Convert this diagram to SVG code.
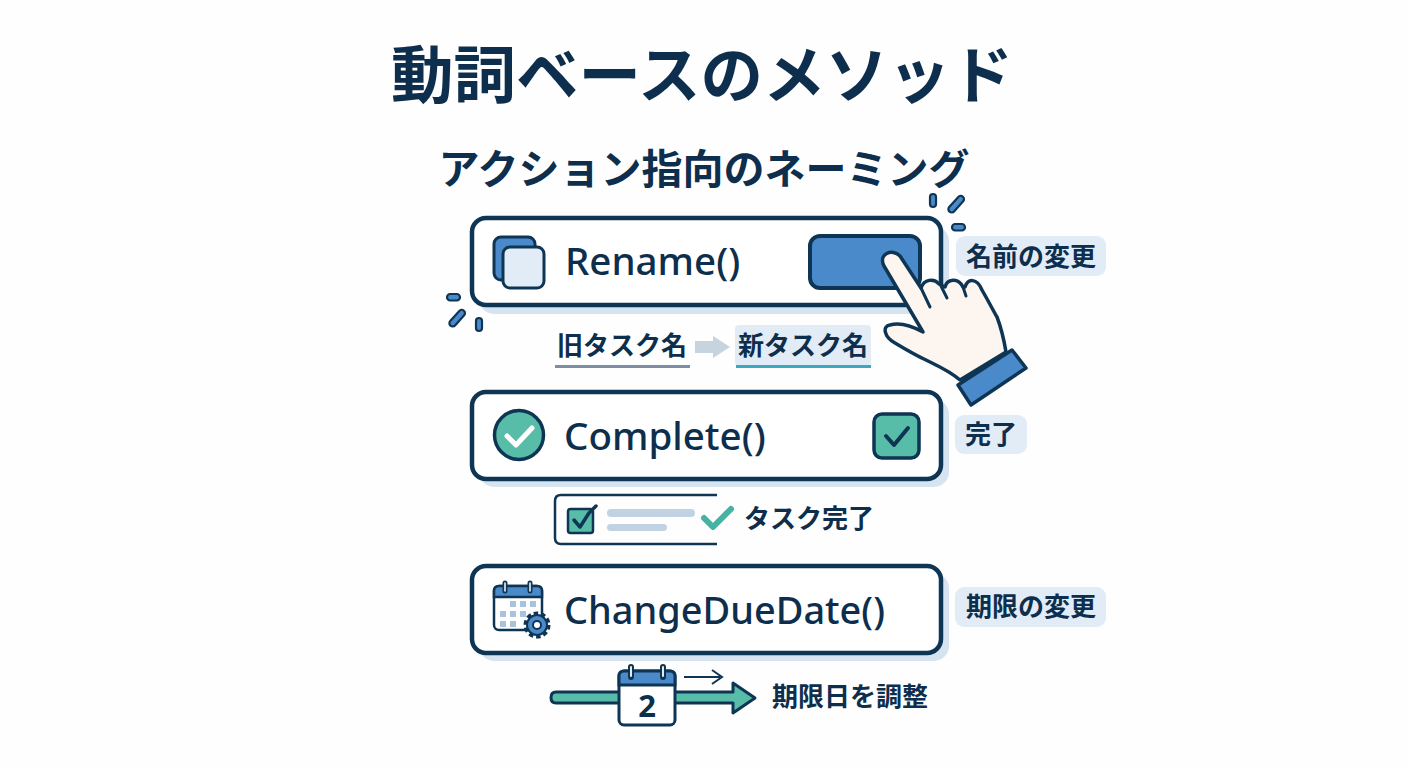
<svg xmlns="http://www.w3.org/2000/svg" width="1408" height="768" viewBox="0 0 1408 768">
<style>
text{font-family:"Noto Sans CJK JP","Noto Sans",sans-serif;fill:#0d2e4c}
.title{font-size:62.500px;font-weight:700;text-anchor:middle}
.sub{font-size:41px;font-weight:700;text-anchor:middle}
.code{font-family:"Noto Sans","Noto Sans CJK JP",sans-serif;font-size:38.500px;font-weight:500}
.lab{font-size:26px;font-weight:700;text-anchor:middle}
.cap{font-size:26px;font-weight:700}
.card{fill:#fff;stroke:#0f3554;stroke-width:4.500}
.shadow{fill:#d6e4f1}
.pill{fill:#e1ecf6}
.spark{fill:#4a8aca;stroke:#0f3554;stroke-width:2.200}
</style>
<rect width="1408" height="768" fill="#fefefe"/>
<text class="title" x="702" y="98">動詞ベースのメソッド</text>
<text class="sub" x="704" y="184">アクション指向のネーミング</text>

<g id="node-rename">
<rect class="shadow" x="479" y="226" width="470" height="88" rx="15"/>
<rect class="card" x="472" y="218" width="469" height="87" rx="14"/>
<rect x="494" y="237" width="41" height="43" rx="7" fill="#4a8aca" stroke="#0f3554" stroke-width="3"/>
<rect x="503" y="247" width="41" height="41" rx="7" fill="#e1ecf6" stroke="#0f3554" stroke-width="3"/>
<text class="code" x="565" y="275">Rename()</text>
<rect x="810" y="236" width="110" height="52" rx="10" fill="#4a8aca" stroke="#0f3554" stroke-width="4"/>
</g>
<g id="sparks">
<rect class="spark" x="930" y="194" width="6" height="13" rx="3"/>
<rect class="spark" x="953" y="194" width="6.500" height="20" rx="3.200" transform="rotate(42 956 204)"/>
<rect class="spark" x="952" y="224" width="13" height="6.500" rx="3.200"/>
<rect class="spark" x="447" y="294" width="13" height="6.500" rx="3.200"/>
<rect class="spark" x="454" y="308" width="6.500" height="20" rx="3.200" transform="rotate(42 457 318)"/>
<rect class="spark" x="476" y="318" width="6" height="13" rx="3"/>
</g>
<g id="label-rename">
<rect class="pill" x="956" y="236" width="150" height="40" rx="9"/>
<text class="lab" x="1031" y="266">名前の変更</text>
</g>
<g id="rename-detail">
<text class="cap" x="557" y="355">旧タスク名</text>
<rect x="555" y="365" width="135" height="3" fill="#7d8ea3"/>
<path d="M695 341H713V336L730 347L713 358V353H695Z" fill="#c6d4e0"/>
<rect class="pill" x="735" y="325" width="136" height="41" rx="4"/>
<rect x="736" y="365" width="135" height="3" fill="#3aa9c0"/>
<text class="cap" x="738" y="355">新タスク名</text>
</g>
<g id="hand">
<path d="M958 385L1012 350L1026 368L971 405Z" fill="#4a8aca" stroke="#0f3554" stroke-width="3.500" stroke-linejoin="round"/>
<path d="M923 332L884 266C878 254 892 248 900 256L921 288C924 279 934 278 939 284L945 287C947 279 958 277 963 287L965 287C968 278 977 278 982 290C990 304 994 312 997 317C1002 330 1004 340 1006 352L960 380C950 371 938 366 926 360C915 355 905 349 895 343C884 337 882 326 890 325C900 322 912 326 923 332Z" fill="#fdf6f0" stroke="#0f3554" stroke-width="3.500" stroke-linejoin="round"/>
<path d="M921 288L930 307M941 286L947 298M963 287L966 296" fill="none" stroke="#0f3554" stroke-width="3" stroke-linecap="round"/>
</g>

<g id="node-complete">
<rect class="shadow" x="479" y="399" width="470" height="88" rx="15"/>
<rect class="card" x="472" y="392" width="469" height="87" rx="14"/>
<circle cx="519" cy="435" r="24.500" fill="#58bda8" stroke="#0f3554" stroke-width="3.500"/>
<path d="M507 436L516 445L532 428" fill="none" stroke="#fff" stroke-width="5" stroke-linecap="round" stroke-linejoin="round"/>
<text class="code" x="564" y="450">Complete()</text>
<rect x="874" y="414" width="45" height="44" rx="8" fill="#58bda8" stroke="#0f3554" stroke-width="3.500"/>
<path d="M886 436L894 445L908 428" fill="none" stroke="#0f3554" stroke-width="4" stroke-linecap="round" stroke-linejoin="round"/>
</g>
<g id="label-complete">
<rect class="pill" x="955" y="415" width="72" height="39" rx="9"/>
<text class="lab" x="991" y="444">完了</text>
</g>
<g id="complete-detail">
<path d="M717 495H561Q555 495 555 501V538Q555 544 561 544H717" fill="none" stroke="#0f3554" stroke-width="2.500"/>
<rect x="568" y="509" width="25" height="24" rx="2.500" fill="#58bda8" stroke="#0f3554" stroke-width="2.500"/>
<path d="M574 520L580 527L589 513L596 506" fill="none" stroke="#0f3554" stroke-width="3.500" stroke-linecap="round" stroke-linejoin="round"/>
<rect x="607" y="509" width="88" height="8" rx="4" fill="#c1d3e2"/>
<rect x="607" y="524" width="60" height="7" rx="3.500" fill="#c1d3e2"/>
<path d="M704 518L713 527L731 509" fill="none" stroke="#46b2a2" stroke-width="6" stroke-linecap="round" stroke-linejoin="round"/>
<text class="cap" x="744" y="528">タスク完了</text>
</g>

<g id="node-change">
<rect class="shadow" x="479" y="573" width="470" height="88" rx="15"/>
<rect class="card" x="472" y="566" width="469" height="87" rx="14"/>
<rect x="494" y="586" width="48" height="44" rx="5" fill="#fff" stroke="#0f3554" stroke-width="2.500"/>
<path d="M494 597V591Q494 586 499 586H537Q542 586 542 591V597Z" fill="#4a8aca" stroke="#0f3554" stroke-width="2.500"/>
<path d="M505 583V591M530 583V591" stroke="#0f3554" stroke-width="5" stroke-linecap="round"/>
<path d="M505 583V591M530 583V591" stroke="#fff" stroke-width="1.500" stroke-linecap="round"/>
<g fill="#a9c3de"><rect x="510" y="601" width="6" height="6"/><rect x="520" y="601" width="6" height="6"/><rect x="530" y="601" width="6" height="6"/><rect x="500" y="611" width="6" height="6"/><rect x="510" y="611" width="6" height="6"/><rect x="520" y="611" width="6" height="6"/><rect x="500" y="621" width="6" height="6"/><rect x="510" y="621" width="6" height="6"/></g>
<circle cx="537" cy="625" r="10.500" fill="#4a8aca" stroke="#0f3554" stroke-width="6" stroke-dasharray="4 2.600"/>
<circle cx="537" cy="625" r="10" fill="#4a8aca" stroke="#0f3554" stroke-width="2"/>
<circle cx="537" cy="625" r="4" fill="#fff" stroke="#0f3554" stroke-width="2"/>
<text class="code" x="564" y="624" style="font-size:37.900px">ChangeDueDate()</text>
</g>
<g id="label-change">
<rect class="pill" x="955" y="587" width="151" height="40" rx="9"/>
<text class="lab" x="1031" y="616">期限の変更</text>
</g>
<g id="change-detail">
<path d="M556 692H733V683L755 698L733 713V703H556Q551 703 551 697.500Q551 692 556 692Z" fill="#58bda8" stroke="#0f3554" stroke-width="3" stroke-linejoin="round"/>
<rect x="619" y="671" width="56" height="54" rx="5" fill="#fff" stroke="#0f3554" stroke-width="3"/>
<path d="M619 685V676Q619 671 624 671H670Q675 671 675 676V685Z" fill="#4a8aca" stroke="#0f3554" stroke-width="3"/>
<path d="M631 667V677M663 667V677" stroke="#0f3554" stroke-width="6" stroke-linecap="round"/>
<path d="M631 667V676M663 667V676" stroke="#fff" stroke-width="1.800" stroke-linecap="round"/>
<text x="647" y="717" font-size="31" font-weight="700" text-anchor="middle" style="font-family:'Noto Sans',sans-serif">2</text>
<path d="M684 677H720M712 670L722 677L712 684" fill="none" stroke="#0f3554" stroke-width="2"/>
<text class="cap" x="772" y="706">期限日を調整</text>
</g>
</svg>
